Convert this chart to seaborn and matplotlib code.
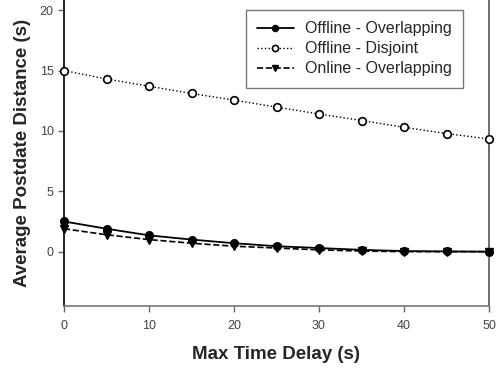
import matplotlib
matplotlib.use("Agg")
import matplotlib.pyplot as plt
import seaborn as sns
import pandas as pd

delay = [0, 5, 10, 15, 20, 25, 30, 35, 40, 45, 50]
offline_overlap = [2.5, 1.9, 1.35, 1.0, 0.7, 0.45, 0.3, 0.15, 0.05, 0.02, 0.0]
offline_disjoint = [15.0, 14.3, 13.7, 13.1, 12.55, 11.97, 11.4, 10.86, 10.3, 9.78, 9.33]
online_overlap = [1.9, 1.4, 1.0, 0.7, 0.45, 0.3, 0.15, 0.05, 0.0, 0.0, 0.0]
series_names = ["Offline - Overlapping", "Offline - Disjoint", "Online - Overlapping"]

sns.set_style("ticks")
plt.rcParams['font.family'] = ['Liberation Sans', 'DejaVu Sans']

df = pd.DataFrame({
    "delay": delay * 3,
    "value": offline_overlap + offline_disjoint + online_overlap,
    "series": sum([[n] * len(delay) for n in series_names], []),
})

fig = plt.figure(figsize=(4.96, 3.74), dpi=100)
ax = fig.add_axes([64/496, 68/374, (489-64)/496, (374-68)/374])

styles = {
    "Offline - Overlapping": dict(ls="-", marker="o", mfc="black", ms=5.5, lw=1.3, mew=1.0),
    "Offline - Disjoint": dict(ls=":", marker="o", mfc="white", ms=5.5, lw=1.0, mew=1.2),
    "Online - Overlapping": dict(ls="--", marker="v", mfc="black", ms=5.5, lw=1.2, mew=1.0),
}
for name in series_names:
    sub = df[df.series == name]
    st = styles[name]
    sns.lineplot(data=sub, x="delay", y="value", ax=ax, color="black",
                 linestyle=st["ls"], marker=st["marker"], markerfacecolor=st["mfc"],
                 markeredgecolor="black", markersize=st["ms"], linewidth=st["lw"],
                 markeredgewidth=st["mew"], label=name, clip_on=False, zorder=3)

ax.set_xlim(0, 50)
ax.set_ylim(-4.5, 20.84)
ax.set_xticks([0, 10, 20, 30, 40, 50])
ax.set_yticks([0, 5, 10, 15, 20])
ax.tick_params(axis="both", which="major", labelsize=9, colors="#666666", labelcolor="#444444",
               length=4, width=1, direction="out")
ax.tick_params(axis="x", pad=6)
ax.spines["top"].set_visible(False)
ax.spines["left"].set_color("black")
ax.spines["left"].set_linewidth(1.2)
ax.spines["bottom"].set_color("#777777")
ax.spines["bottom"].set_linewidth(1.2)
ax.spines["right"].set_color("#555555")
ax.spines["right"].set_linewidth(1.2)

ax.set_xlabel("Max Time Delay (s)", fontsize=13.5, fontweight="bold", labelpad=10)
ax.set_ylabel("Average Postdate Distance (s)", fontsize=13.5, fontweight="bold", labelpad=6)

leg = ax.legend(loc="upper right",
                bbox_to_anchor=((463 - 64) / (489 - 64), 1 - 10 / 306),
                fontsize=11.5, frameon=True, fancybox=False, handlelength=2.3,
                borderpad=0.7, labelspacing=0.32, handletextpad=0.7, markerscale=0.8,
                borderaxespad=0.0)
leg.get_frame().set_edgecolor("#555555")
leg.get_frame().set_linewidth(1.0)

fig.savefig("out.png", dpi=100)
